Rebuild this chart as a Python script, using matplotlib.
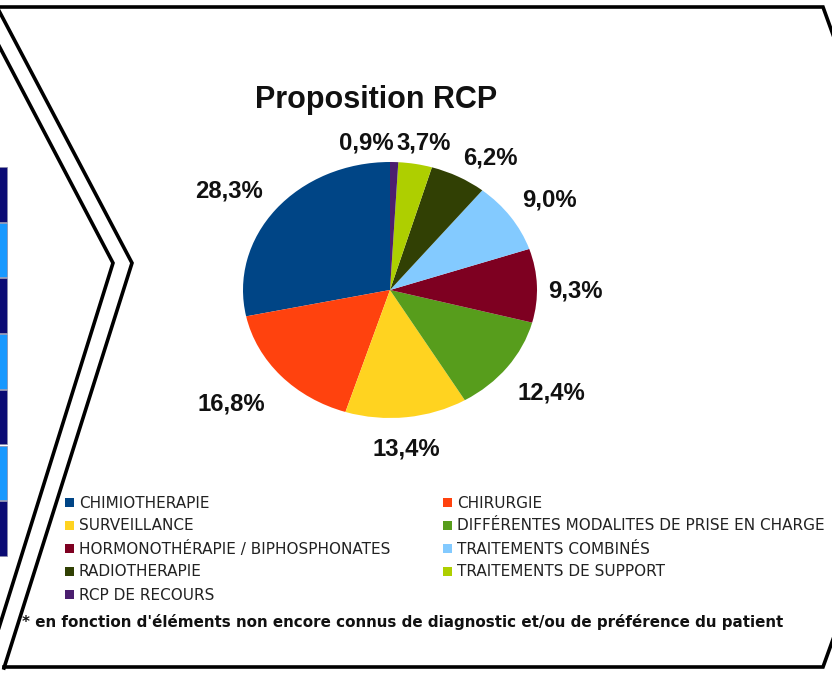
import matplotlib
matplotlib.use("Agg")
import matplotlib.pyplot as plt
from matplotlib.patches import Rectangle
import numpy as np

# ---- data ----
categories = ["CHIMIOTHERAPIE", "CHIRURGIE", "SURVEILLANCE",
              "DIFFÉRENTES MODALITES DE PRISE EN CHARGE",
              "HORMONOTHÉRAPIE / BIPHOSPHONATES", "TRAITEMENTS COMBINÉS",
              "RADIOTHERAPIE", "TRAITEMENTS DE SUPPORT", "RCP DE RECOURS"]
values = [28.3, 16.8, 13.4, 12.4, 9.3, 9.0, 6.2, 3.7, 0.9]
title = "Proposition RCP"
footnote = ("* en fonction d'éléments non encore connus de diagnostic "
            "et/ou de préférence du patient")

# ---- style ----
colors = ["#004586", "#ff420e", "#ffd320", "#579d1c", "#7e0021",
          "#83caff", "#314004", "#aecf00", "#4b1f6f"]
label_r = [1.34, 1.40, 1.25, 1.36, 1.26, 1.29, 1.235, 1.17, 1.16]
label_dang = [3.9, -2.5, -1.5, 0.8, -2.4, -1.9, -5.7, -1.5, 9.7]

W, H = 832, 675
fig = plt.figure(figsize=(W / 100, H / 100), dpi=100)
fig.patch.set_facecolor("white")

# decoration axes in pixel coordinates
deco = fig.add_axes([0, 0, 1, 1])
deco.set_xlim(0, W)
deco.set_ylim(H, 0)
deco.axis("off")

# left strip of blue bars
bar_cols = ["#0b0b74", "#1898ff"]
y0, seg = 167, 55.7
for i in range(7):
    deco.add_patch(Rectangle((-1, y0 + i * seg), 8, seg - 1.2,
                             facecolor=bar_cols[i % 2], edgecolor="#8a8aa8",
                             linewidth=0.5))

lw = 2.6
# chevrons
deco.plot([-3, 132, 4], [7, 263, 668], color="black", lw=lw,
          solid_joinstyle="miter")
deco.plot([-3, 113, -3], [42, 263, 634], color="black", lw=lw,
          solid_joinstyle="miter")
# frame top / bottom / right point
deco.plot([0, 823, 836], [7, 7, 43], color="black", lw=lw,
          solid_joinstyle="miter")
deco.plot([4, 823, 836], [667, 667, 631], color="black", lw=lw,
          solid_joinstyle="miter")

# ---- pie ----
cx, cy, rx, ry = 390, 290, 147, 128
lim = 1.5
ax = fig.add_axes([(cx - lim * rx) / W, (H - cy - lim * ry) / H,
                   2 * lim * rx / W, 2 * lim * ry / H])
wedges, _ = ax.pie(values, colors=colors, startangle=90, counterclock=True,
                   wedgeprops=dict(linewidth=0))
ax.set_aspect("auto")
ax.set_xlim(-lim, lim)
ax.set_ylim(-lim, lim)
ax.axis("off")

for w, v, r, d in zip(wedges, values, label_r, label_dang):
    ang = np.deg2rad((w.theta1 + w.theta2) / 2 + d)
    ax.text(r * np.cos(ang), r * np.sin(ang),
            f"{v:.1f}".replace(".", ",") + "%",
            ha="center", va="center", fontsize=17.2, fontweight="bold",
            family="Liberation Sans", color="#111111")

fig.text(376 / W, 1 - 100 / H, title, ha="center", va="center",
         fontsize=22, fontweight="bold", family="Liberation Sans",
         color="#111111")

# ---- legend (two columns, row-major) ----
col_x = [65, 443]
for i, (cat, col) in enumerate(zip(categories, colors)):
    row, c = divmod(i, 2)
    y = 503 + 23 * row
    deco.add_patch(Rectangle((col_x[c], y - 5), 9, 9, facecolor=col,
                             edgecolor="none"))
    deco.text(col_x[c] + 14, y, cat, ha="left", va="center",
              fontsize=11.0, family="DejaVu Sans", color="#222222")

fig.text(22 / W, 1 - 622 / H, footnote, ha="left", va="center",
         fontsize=10.9, fontweight="bold", family="DejaVu Sans",
         color="#111111")

fig.savefig("out.png", dpi=100)
